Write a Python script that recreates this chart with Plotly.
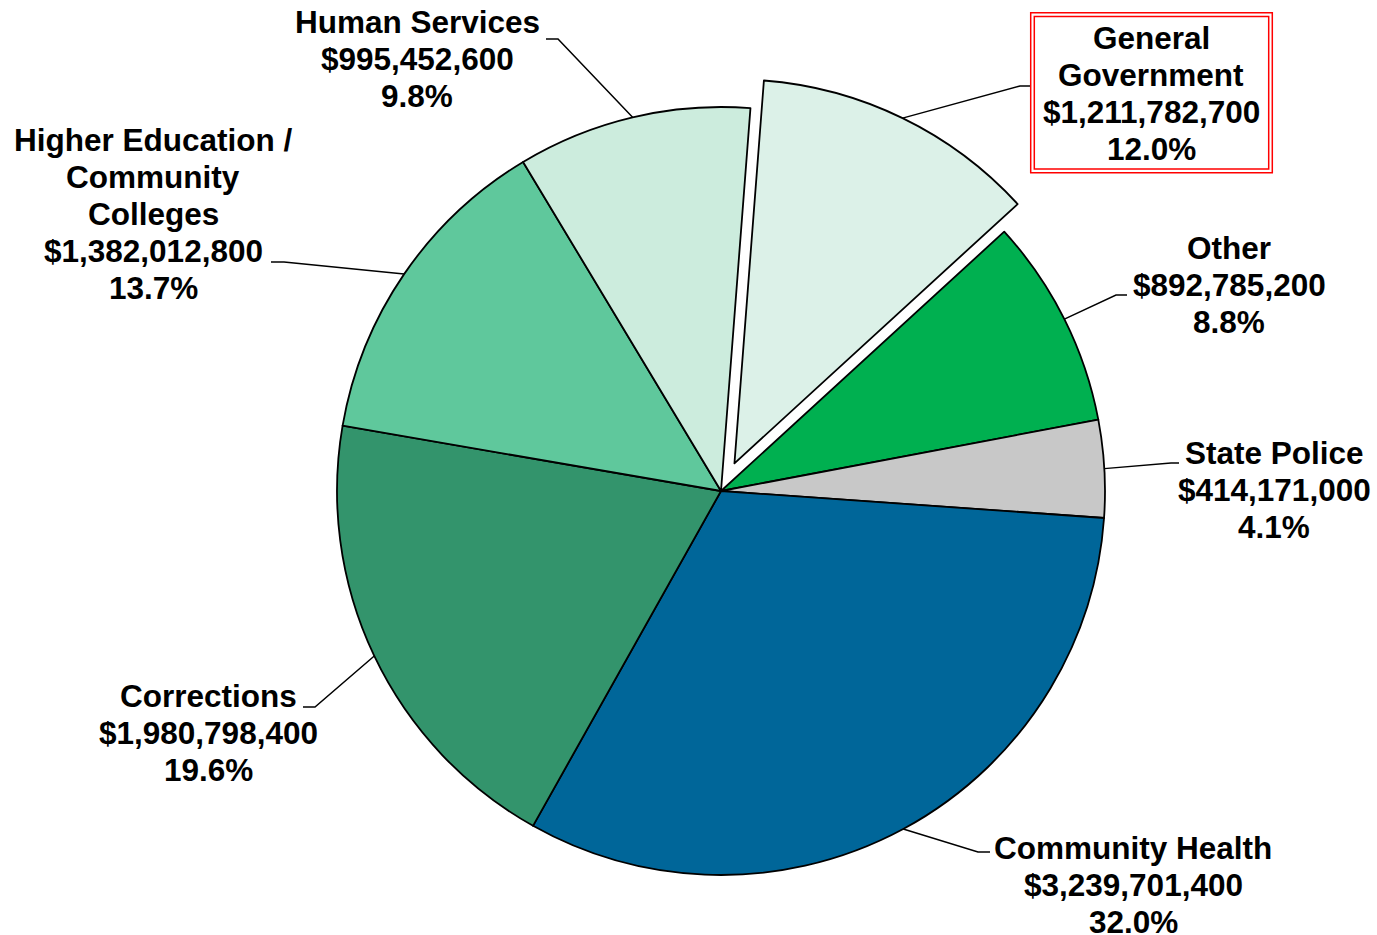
import math
import plotly.graph_objects as go

W, H = 1377, 935

# ---- data ----
categories = ["General Government", "Other", "State Police", "Community Health",
              "Corrections", "Higher Education / Community Colleges", "Human Services"]
values = [1211782700, 892785200, 414171000, 3239701400, 1980798400, 1382012800, 995452600]
colors = ["#DCF1E8", "#00B050", "#C8C8C8", "#006699", "#33946C", "#5FC89C", "#CCECDD"]
pulls = [0.08, 0, 0, 0, 0, 0, 0]

# how the category names wrap in the labels
name_lines = {
    "General Government": ["General", "Government"],
    "Higher Education / Community Colleges": ["Higher Education /", "Community", "Colleges"],
}

# ---- layout (pixels) ----
PIE_CX, PIE_CY, PIE_R = 721, 491, 384
ROTATION = 4.4
max_pull = max(pulls)
half = PIE_R * (1 + max_pull)
dom_x = [(PIE_CX - half) / W, (PIE_CX + half) / W]
dom_y = [1 - (PIE_CY + half) / H, 1 - (PIE_CY - half) / H]

label_pos = {
    "General Government": dict(cx=1151, y0=38, attach=(1031, 86), elbow=(1020, 86)),
    "Other": dict(cx=1229, y0=248, attach=(1127, 295), elbow=(1116, 295)),
    "State Police": dict(cx=1274, y0=453, attach=(1179, 463), elbow=(1171, 463)),
    "Community Health": dict(cx=1133, y0=848, attach=(990, 852), elbow=(978, 852)),
    "Corrections": dict(cx=208, y0=696, attach=(303, 707), elbow=(315, 707)),
    "Higher Education / Community Colleges": dict(cx=153, y0=140, attach=(271, 262), elbow=(284, 262)),
    "Human Services": dict(cx=417, y0=22, attach=(546, 39), elbow=(558, 39)),
}
LINE_STEP = 37
FONT = dict(family="Liberation Sans, Arial, sans-serif", size=31.5, color="black", weight="bold")


def px(x):
    return x / W


def py(y):
    return 1 - y / H


fig = go.Figure(go.Pie(
    labels=categories, values=values, sort=False, direction="clockwise",
    rotation=ROTATION, pull=pulls,
    marker=dict(colors=colors, line=dict(color="black", width=1.8)),
    textinfo="none", hoverinfo="skip",
    domain=dict(x=dom_x, y=dom_y),
))

# recover pie geometry the same way plotly does
cx = W * (dom_x[0] + dom_x[1]) / 2
cy = H * (1 - (dom_y[0] + dom_y[1]) / 2)
r = min(W * (dom_x[1] - dom_x[0]), H * (dom_y[1] - dom_y[0])) / 2 / (1 + max_pull)

total = sum(values)
annotations = []
shapes = []
angle = ROTATION
for name, v, p in zip(categories, values, pulls):
    sweep = 360.0 * v / total
    mid = math.radians(angle + sweep / 2)
    angle += sweep
    ex = cx + (1 + p) * r * math.sin(mid)
    ey = cy - (1 + p) * r * math.cos(mid)
    pos = label_pos[name]
    lines = name_lines.get(name, [name]) + [f"${v:,.0f}", f"{v / total * 100:.1f}%"]
    for k, t in enumerate(lines):
        annotations.append(dict(
            x=px(pos["cx"]), y=py(pos["y0"] + k * LINE_STEP), xref="paper", yref="paper",
            text=t, showarrow=False, xanchor="center", yanchor="middle", font=FONT,
        ))
    (bx, by), (ax, ay) = pos["elbow"], pos["attach"]
    shapes.append(dict(
        type="path", xref="paper", yref="paper",
        path=f"M {px(ex)},{py(ey)} L {px(bx)},{py(by)} L {px(ax)},{py(ay)}",
        line=dict(color="black", width=1.5),
    ))

# red double frame around the highlighted label
for (x0, y0, x1, y1) in [(1030.7, 12.7, 1272.3, 172.7), (1034.3, 16.5, 1268.7, 169.0)]:
    shapes.append(dict(type="rect", xref="paper", yref="paper",
                       x0=px(x0), x1=px(x1), y0=py(y1), y1=py(y0),
                       line=dict(color="#FF0000", width=1.5)))

fig.update_layout(
    width=W, height=H, margin=dict(l=0, r=0, t=0, b=0),
    paper_bgcolor="white", plot_bgcolor="white", showlegend=False,
    annotations=annotations, shapes=shapes,
)

fig.write_html("out.html", config={"displayModeBar": False},
               post_script="document.body.style.margin='0';document.body.style.overflow='hidden';")
